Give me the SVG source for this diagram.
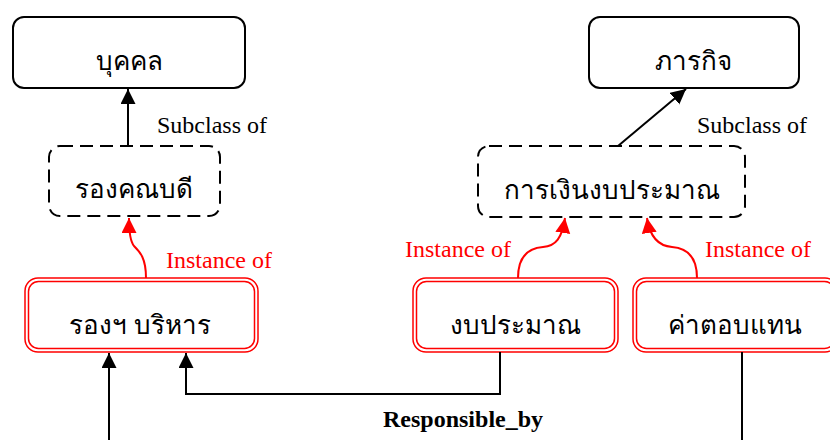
<svg xmlns="http://www.w3.org/2000/svg" width="830" height="440" viewBox="0 0 830 440">
  <style>
    .cls { fill: #fff; stroke: #000; stroke-width: 2; }
    .abs { fill: #fff; stroke: #000; stroke-width: 2; stroke-dasharray: 13 7; }
    .inst { fill: #fff; stroke: #f00; stroke-width: 1.5; }
    .th { font-family: "Noto Sans", "DejaVu Sans", sans-serif; font-size: 26px; fill: #000; text-anchor: middle; }
    .lbl { font-family: "Liberation Serif", serif; font-size: 24px; fill: #000; }
    .red { fill: #f00; }
    .bold { font-weight: bold; }
    .edge { fill: none; stroke: #000; stroke-width: 2; }
    .redge { fill: none; stroke: #f00; stroke-width: 2; }
  </style>
  <defs>
    <marker id="ah" markerUnits="userSpaceOnUse" markerWidth="16" markerHeight="16" refX="15" refY="7.5" orient="auto">
      <path d="M0,0 L15,7.5 L0,15 z" fill="#000"/>
    </marker>
    <marker id="ahr" markerUnits="userSpaceOnUse" markerWidth="16" markerHeight="16" refX="15" refY="7.5" orient="auto">
      <path d="M0,0 L15,7.5 L0,15 z" fill="#f00"/>
    </marker>
  </defs>

  <g id="node-person">
    <rect class="cls" x="13" y="17" width="232" height="71" rx="11"/>
    <text class="th" x="129" y="70">บุคคล</text>
  </g>
  <g id="node-mission">
    <rect class="cls" x="589" y="17" width="210" height="71" rx="11"/>
    <text class="th" x="693" y="70">ภารกิจ</text>
  </g>
  <g id="node-vice-dean">
    <rect class="abs" x="49" y="146" width="171" height="70" rx="11"/>
    <text class="th" x="134" y="198">รองคณบดี</text>
  </g>
  <g id="node-finance">
    <rect class="abs" x="478" y="146" width="267" height="71" rx="11"/>
    <text class="th" x="612" y="199">การเงินงบประมาณ</text>
  </g>
  <g id="node-vp-admin">
    <rect class="inst" x="25" y="278" width="233" height="74" rx="13"/>
    <rect class="inst" x="28.5" y="281.5" width="226" height="67" rx="10"/>
    <text class="th" x="140" y="334">รองฯ บริหาร</text>
  </g>
  <g id="node-budget">
    <rect class="inst" x="413" y="278" width="205" height="74" rx="13"/>
    <rect class="inst" x="416.5" y="281.5" width="198" height="67" rx="10"/>
    <text class="th" x="515" y="334">งบประมาณ</text>
  </g>
  <g id="node-compensation">
    <rect class="inst" x="633" y="278" width="205" height="74" rx="13"/>
    <rect class="inst" x="636.5" y="281.5" width="198" height="67" rx="10"/>
    <text class="th" x="735" y="334">ค่าตอบแทน</text>
  </g>

  <g id="connectors">
    <path class="edge" d="M128,146 L128,89" marker-end="url(#ah)"/>
    <path class="edge" d="M618,146 L686,89" marker-end="url(#ah)"/>
    <path class="redge" d="M146,278 C146,258 140,252 134,246 C130,241 129,232 129,218" marker-end="url(#ahr)"/>
    <path class="redge" d="M518,278 C518,255 530,248 543,247 C556,246 562,238 565,218" marker-end="url(#ahr)"/>
    <path class="redge" d="M697,278 C697,255 685,248 672,247 C659,246 650,238 647,218" marker-end="url(#ahr)"/>
    <path class="edge" d="M500,352 L500,394 L186,394 L186,353" marker-end="url(#ah)"/>
    <path class="edge" d="M109,440 L109,353" marker-end="url(#ah)"/>
    <path class="edge" d="M742,352 L742,440"/>
    <text class="lbl" x="157" y="133">Subclass of</text>
    <text class="lbl" x="697" y="133">Subclass of</text>
    <text class="lbl red" x="166" y="268">Instance of</text>
    <text class="lbl red" x="405" y="257">Instance of</text>
    <text class="lbl red" x="705" y="257">Instance of</text>
    <text class="lbl bold" x="383" y="427">Responsible_by</text>
  </g>
</svg>
